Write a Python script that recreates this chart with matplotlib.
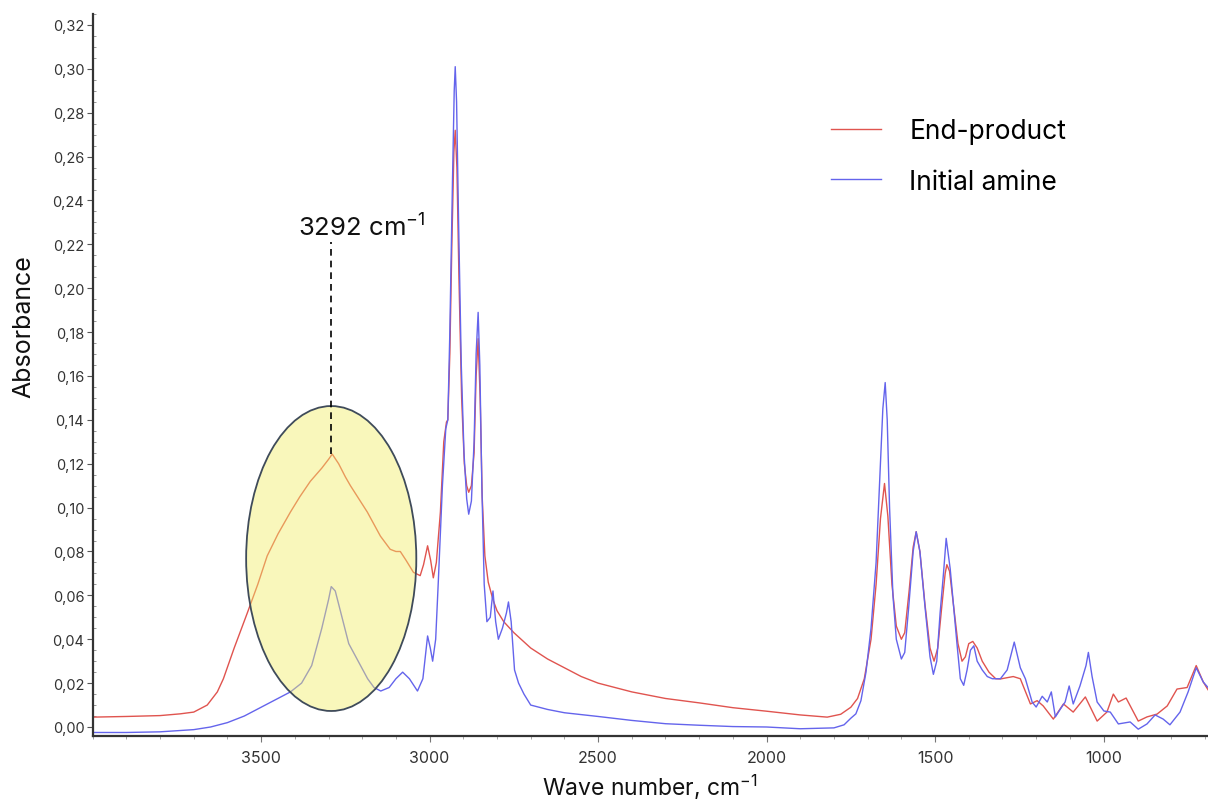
import matplotlib.pyplot as plt
from matplotlib.patches import Ellipse
from matplotlib.ticker import MultipleLocator, FixedLocator, FuncFormatter

plt.rcParams['font.family'] = ['Inter', 'DejaVu Sans']

# End-product spectrum (wave number, absorbance)
end_wn = [4000, 3900, 3800, 3740, 3700, 3660, 3630, 3612, 3580, 3541, 3510, 3482, 3450,
          3413, 3385, 3354, 3320, 3300, 3289, 3270, 3250, 3235, 3210, 3185, 3160, 3146,
          3117, 3100, 3087, 3070, 3048, 3028, 3018, 3006, 2997, 2989, 2980, 2968, 2958,
          2950, 2946, 2940, 2934, 2928, 2924, 2919, 2913, 2905, 2897, 2890, 2884, 2876,
          2868, 2862, 2856, 2850, 2844, 2836, 2826, 2812, 2800, 2780, 2750, 2700, 2650,
          2600, 2550, 2500, 2400, 2300, 2200, 2100, 2000, 1900, 1820, 1780, 1750, 1730,
          1710, 1690, 1675, 1662, 1650, 1640, 1628, 1615, 1600, 1590, 1577, 1565, 1556,
          1545, 1530, 1515, 1503, 1492, 1480, 1470, 1465, 1457, 1445, 1432, 1420, 1410,
          1400, 1388, 1375, 1360, 1340, 1320, 1306, 1285, 1268, 1247, 1217, 1197, 1179,
          1149, 1119, 1090, 1054, 1019, 990, 971, 956, 933, 897, 871, 841, 811, 782, 752,
          725, 704, 690]
end_abs = [0.0045, 0.0048, 0.0052, 0.0060, 0.0068, 0.010, 0.016, 0.022, 0.036, 0.052,
           0.065, 0.078, 0.088, 0.098, 0.105, 0.112, 0.118, 0.122, 0.1244, 0.120, 0.114,
           0.110, 0.104, 0.098, 0.091, 0.087, 0.081, 0.080, 0.080, 0.076, 0.0705, 0.069,
           0.074, 0.0826, 0.076, 0.068, 0.075, 0.098, 0.130, 0.139, 0.140, 0.170, 0.220,
           0.262, 0.272, 0.255, 0.205, 0.150, 0.120, 0.110, 0.107, 0.110, 0.125, 0.160,
           0.177, 0.150, 0.105, 0.078, 0.066, 0.058, 0.053, 0.048, 0.043, 0.036, 0.031,
           0.027, 0.023, 0.020, 0.016, 0.013, 0.011, 0.0088, 0.0072, 0.0055, 0.0045,
           0.0058, 0.009, 0.013, 0.022, 0.040, 0.065, 0.095, 0.111, 0.096, 0.065, 0.046,
           0.040, 0.043, 0.062, 0.082, 0.089, 0.080, 0.056, 0.036, 0.030, 0.036, 0.055,
           0.070, 0.074, 0.071, 0.055, 0.038, 0.030, 0.032, 0.038, 0.039, 0.036, 0.030,
           0.025, 0.022, 0.0219, 0.0225, 0.023, 0.022, 0.0105, 0.012, 0.0096, 0.0036,
           0.0105, 0.0068, 0.0137, 0.0027, 0.0068, 0.015, 0.0114, 0.0132, 0.0027, 0.0046,
           0.0059, 0.0096, 0.0173, 0.018, 0.028, 0.0205, 0.017]

# Initial amine spectrum (wave number, absorbance)
ini_wn = [4000, 3900, 3800, 3700, 3650, 3600, 3550, 3500, 3450, 3413, 3380, 3350, 3320,
          3300, 3292, 3280, 3260, 3240, 3226, 3205, 3184, 3165, 3145, 3120, 3100, 3080,
          3060, 3036, 3020, 3006, 2998, 2991, 2982, 2974, 2962, 2952, 2946, 2940, 2932,
          2927, 2924, 2920, 2914, 2906, 2898, 2890, 2884, 2876, 2868, 2862, 2856, 2851,
          2845, 2838, 2830, 2820, 2812, 2804, 2796, 2784, 2772, 2766, 2758, 2748, 2736,
          2720, 2700, 2650, 2600, 2500, 2400, 2300, 2200, 2100, 2000, 1900, 1800, 1770,
          1750, 1735, 1720, 1705, 1690, 1675, 1665, 1655, 1648, 1642, 1635, 1625, 1615,
          1600, 1590, 1578, 1565, 1556, 1545, 1530, 1515, 1505, 1495, 1485, 1475, 1467,
          1460, 1455, 1445, 1435, 1425, 1415, 1405, 1395, 1385, 1375, 1360, 1345, 1330,
          1306, 1286, 1265, 1247, 1232, 1212, 1200, 1182, 1167, 1155, 1143, 1128, 1114,
          1102, 1090, 1070, 1052, 1045, 1034, 1019, 999, 980, 956, 921, 897, 871, 847,
          823, 803, 773, 749, 725, 704, 690]
ini_abs = [-0.0025, -0.0025, -0.0022, -0.0012, 0.0, 0.002, 0.005, 0.009, 0.013, 0.016,
           0.020, 0.028, 0.045, 0.058, 0.064, 0.062, 0.050, 0.038, 0.034, 0.028, 0.022,
           0.018, 0.0164, 0.018, 0.022, 0.025, 0.022, 0.0164, 0.022, 0.0415, 0.036, 0.030,
           0.040, 0.067, 0.110, 0.136, 0.140, 0.180, 0.250, 0.290, 0.301, 0.285, 0.230,
           0.165, 0.125, 0.104, 0.097, 0.103, 0.130, 0.170, 0.189, 0.165, 0.110, 0.065,
           0.048, 0.050, 0.062, 0.048, 0.040, 0.045, 0.052, 0.057, 0.048, 0.026, 0.020,
           0.015, 0.010, 0.008, 0.0065, 0.0048, 0.003, 0.0015, 0.0008, 0.0002, 0.0,
           -0.0008, -0.0004, 0.001, 0.004, 0.006, 0.012, 0.025, 0.045, 0.075, 0.110, 0.145,
           0.157, 0.140, 0.100, 0.060, 0.040, 0.031, 0.034, 0.055, 0.080, 0.089, 0.080,
           0.055, 0.032, 0.024, 0.030, 0.052, 0.070, 0.086, 0.078, 0.072, 0.055, 0.038,
           0.022, 0.019, 0.026, 0.035, 0.037, 0.030, 0.026, 0.023, 0.022, 0.022, 0.026,
           0.0387, 0.027, 0.022, 0.0114, 0.0091, 0.014, 0.0114, 0.016, 0.0046, 0.0082,
           0.0114, 0.0187, 0.0105, 0.0187, 0.028, 0.034, 0.023, 0.0114, 0.0073, 0.0068,
           0.0014, 0.0023, -0.001, 0.0014, 0.0055, 0.0036, 0.001, 0.0068, 0.016, 0.027,
           0.0205, 0.018]

x_ticks = [3500, 3000, 2500, 2000, 1500, 1000]

peak_wn = 3292
peak_abs = 0.1244

fig = plt.figure(figsize=(12.08, 8.03), dpi=100)
ax = fig.add_axes([0.0767, 0.0822, 0.9233, 0.8991])

ax.plot(end_wn, end_abs, color='#e0544f', lw=1.0, label='End-product')
ax.plot(ini_wn, ini_abs, color='#6464ec', lw=1.0, label='Initial amine')

# highlighted N-H band
oval = Ellipse((3292, 0.0768), 505, 0.139, facecolor='#f3ee6a', alpha=0.45,
               edgecolor='none', zorder=3)
ax.add_patch(oval)
ax.add_patch(Ellipse((3292, 0.0768), 505, 0.139, facecolor='none',
                     edgecolor='#3f4b5a', lw=1.3, zorder=4))

ax.vlines(peak_wn, peak_abs, 0.221, colors='black', linestyles=(0, (4, 3)), lw=1.2, zorder=5)
ax.text(3392, 0.2285, '3292 cm$^{\\mathregular{-1}}$', fontsize=18.5, ha='left', va='center',
        color='#111111')

ax.set_xlim(4000, 690)
ax.set_ylim(-0.0041, 0.325)

ax.xaxis.set_major_locator(FixedLocator(x_ticks))
ax.xaxis.set_minor_locator(MultipleLocator(100))
ax.yaxis.set_major_locator(MultipleLocator(0.02))
ax.yaxis.set_minor_locator(MultipleLocator(0.005))
ax.yaxis.set_major_formatter(FuncFormatter(lambda v, _: f'{v:.2f}'.replace('.', ',')))

for side in ['top', 'right']:
    ax.spines[side].set_visible(False)
for side in ['left', 'bottom']:
    ax.spines[side].set_color('#333333')
    ax.spines[side].set_linewidth(1.6)

ax.tick_params(axis='y', which='major', length=4, width=0.8, colors='#555555',
               labelcolor='#333333', labelsize=10.5, pad=2)
ax.tick_params(axis='y', which='minor', length=2.5, width=0.6, colors='#888888', direction='in')
ax.tick_params(axis='x', which='major', length=4, width=0.8, colors='#777777',
               labelcolor='#333333', labelsize=11.5, pad=6)
ax.tick_params(axis='x', which='minor', length=2, width=0.6, colors='#999999')

ax.set_xlabel('Wave number, cm$^{\\mathregular{-1}}$', fontsize=16.5, color='#111111')
ax.xaxis.set_label_coords(0.4998, -0.05)
ax.set_ylabel('Absorbance', fontsize=18, color='#111111')
ax.yaxis.set_label_coords(-0.051, 0.568)

leg = ax.legend(loc='upper left', bbox_to_anchor=(0.641, 0.889), frameon=False, fontsize=19,
                handlelength=1.9, handletextpad=1.05, labelspacing=0.94)

fig.savefig('out.png', dpi=100, facecolor='white')
